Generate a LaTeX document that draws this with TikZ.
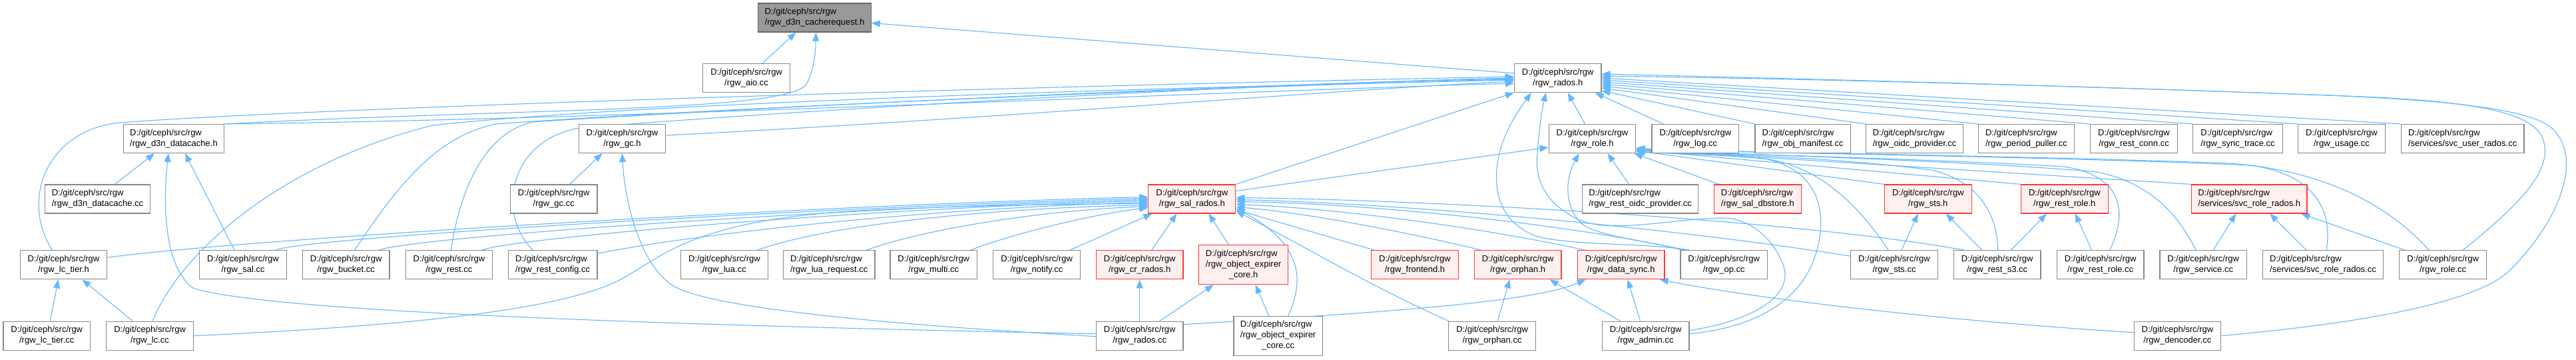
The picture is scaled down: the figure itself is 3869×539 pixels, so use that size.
\documentclass[tikz,border=0pt]{standalone}
\usepackage{fontspec}
\setmainfont{Liberation Sans}
\usetikzlibrary{arrows.meta,backgrounds}
\definecolor{edgeblue}{HTML}{63B8FF}
\definecolor{boxgray}{HTML}{888888}
\definecolor{boxred}{HTML}{FF3838}
\definecolor{redfill}{HTML}{FFF0F0}
\definecolor{rootfill}{HTML}{999999}
\definecolor{rootdraw}{HTML}{666666}
\newcommand{\dxl}[1]{\begin{tabular}{@{}l@{}}D:/git/ceph/src/rgw\\\multicolumn{1}{@{}c@{}}{#1}\end{tabular}}
\newcommand{\dxlt}[2]{\begin{tabular}{@{}l@{}}D:/git/ceph/src/rgw\\#1\\\multicolumn{1}{@{}c@{}}{#2}\end{tabular}}
\tikzset{
  box/.style={draw=boxgray, fill=white, line width=1.2pt, minimum width=130.6pt,
    minimum height=43pt, inner xsep=0pt, inner ysep=0pt,
    font=\fontsize{13}{16}\selectfont, text=black},
  redbox/.style={box, draw=boxred, fill=redfill},
  rootbox/.style={box, draw=rootdraw, fill=rootfill},
  tallbox/.style={minimum height=58.8pt},
  e/.style={draw=edgeblue, line width=1.1pt, -{Triangle[length=13pt,width=10pt]}},
}
\begin{document}
\begin{tikzpicture}[x=1pt,y=-1pt]
\useasboundingbox (0,0) rectangle (3869,539);
% ---------- nodes ----------
\node[rootbox, minimum width=169.5pt] (root) at (1223.5,26.5) {\dxl{/rgw\_d3n\_cacherequest.h}};
\node[box] (aio) at (1121.1,117) {\dxl{/rgw\_aio.cc}};
\node[box] (radosh) at (2339.7,117) {\dxl{/rgw\_rados.h}};
% row 2
\node[box, minimum width=151.3pt] (d3nh) at (261,208) {\dxl{/rgw\_d3n\_datacache.h}};
\node[box] (gch) at (934.5,208) {\dxl{/rgw\_gc.h}};
\node[box] (roleh) at (2391.5,208) {\dxl{/rgw\_role.h}};
\node[box] (logcc) at (2546.3,208) {\dxl{/rgw\_log.cc}};
\node[box, minimum width=143.4pt] (objm) at (2707.6,208) {\dxl{/rgw\_obj\_manifest.cc}};
\node[box, minimum width=145.5pt] (oidc) at (2875.6,208) {\dxl{/rgw\_oidc\_provider.cc}};
\node[box, minimum width=143.8pt] (period) at (3043.5,208) {\dxl{/rgw\_period\_puller.cc}};
\node[box, minimum width=130.9pt] (restconn) at (3205,208) {\dxl{/rgw\_rest\_conn.cc}};
\node[box, minimum width=134.4pt] (synctrace) at (3361,208) {\dxl{/rgw\_sync\_trace.cc}};
\node[box] (usage) at (3517,208) {\dxl{/rgw\_usage.cc}};
\node[box, minimum width=184.8pt] (svcuser) at (3698.6,208) {\dxl{/services/svc\_user\_rados.cc}};
% row 3
\node[box, minimum width=158.7pt] (d3ncc) at (146.5,298.5) {\dxl{/rgw\_d3n\_datacache.cc}};
\node[box] (gccc) at (831.7,298.5) {\dxl{/rgw\_gc.cc}};
\node[redbox, minimum width=131pt] (salh) at (1790.3,298.5) {\dxl{/rgw\_sal\_rados.h}};
\node[box, minimum width=174.5pt] (restoidc) at (2463.6,298.5) {\dxl{/rgw\_rest\_oidc\_provider.cc}};
\node[redbox] (dbstore) at (2639.8,298.5) {\dxl{/rgw\_sal\_dbstore.h}};
\node[redbox] (stsh) at (2895.8,298.5) {\dxl{/rgw\_sts.h}};
\node[redbox] (restroleh) at (3100.8,298.5) {\dxl{/rgw\_rest\_role.h}};
\node[redbox, minimum width=173.7pt] (svcroleh) at (3378.2,298.5) {\dxl{/services/svc\_role\_rados.h}};
% row 4
\node[box] (lctierh) at (95.5,397.2) {\dxl{/rgw\_lc\_tier.h}};
\node[box] (salcc) at (365,397.2) {\dxl{/rgw\_sal.cc}};
\node[box] (bucket) at (519.6,397.2) {\dxl{/rgw\_bucket.cc}};
\node[box] (rest) at (674.4,397.2) {\dxl{/rgw\_rest.cc}};
\node[box, minimum width=133.5pt] (restcfg) at (830.2,397.2) {\dxl{/rgw\_rest\_config.cc}};
\node[box] (lua) at (1087.9,397.2) {\dxl{/rgw\_lua.cc}};
\node[box, minimum width=137.6pt] (luareq) at (1245.2,397.2) {\dxl{/rgw\_lua\_request.cc}};
\node[box] (multi) at (1402.3,397.2) {\dxl{/rgw\_multi.cc}};
\node[box] (notify) at (1557.1,397.2) {\dxl{/rgw\_notify.cc}};
\node[redbox] (crh) at (1711.7,397.2) {\dxl{/rgw\_cr\_rados.h}};
\node[redbox, tallbox, minimum width=133.8pt] (oeh) at (1867.6,397.2) {\dxlt{/rgw\_object\_expirer}{\_core.h}};
\node[redbox] (frontend) at (2125,397.2) {\dxl{/rgw\_frontend.h}};
\node[redbox] (orphanh) at (2279.6,397.2) {\dxl{/rgw\_orphan.h}};
\node[redbox] (datasync) at (2434.6,397.2) {\dxl{/rgw\_data\_sync.h}};
\node[box] (op) at (2589.2,397.2) {\dxl{/rgw\_op.cc}};
\node[box] (stscc) at (2845,397.2) {\dxl{/rgw\_sts.cc}};
\node[box] (rests3) at (2999.6,397.2) {\dxl{/rgw\_rest\_s3.cc}};
\node[box] (restrolecc) at (3154.7,397.2) {\dxl{/rgw\_rest\_role.cc}};
\node[box] (service) at (3309.2,397.2) {\dxl{/rgw\_service.cc}};
\node[box, minimum width=180.5pt] (svcrolecc) at (3489,397.2) {\dxl{/services/svc\_role\_rados.cc}};
\node[box] (rolecc) at (3669.1,397.2) {\dxl{/rgw\_role.cc}};
% row 5
\node[box] (lctiercc) at (70.3,503.7) {\dxl{/rgw\_lc\_tier.cc}};
\node[box] (lccc) at (225.1,503.7) {\dxl{/rgw\_lc.cc}};
\node[box] (radoscc) at (1711.7,503.7) {\dxl{/rgw\_rados.cc}};
\node[box, tallbox, minimum width=133.4pt] (oecc) at (1919.6,503.7) {\dxlt{/rgw\_object\_expirer}{\_core.cc}};
\node[box] (orphancc) at (2241.1,503.7) {\dxl{/rgw\_orphan.cc}};
\node[box] (admin) at (2471.6,503.7) {\dxl{/rgw\_admin.cc}};
\node[box] (dencoder) at (3270.4,503.7) {\dxl{/rgw\_dencoder.cc}};
% ---------- edges ----------
\begin{scope}[on background layer]
\fill[white] (0,0) rectangle (3869,539);
% to root
\draw[e] ([xshift=24pt]aio.north) -- ([xshift=-28pt]root.south);
\draw[e] (d3nh.north east) .. controls (800,162) and (1190,168) .. (1212,125) .. controls (1224,100) and (1225,75) .. ([xshift=2pt]root.south);
\draw[e] ([yshift=-15pt]radosh.north west) -- ([yshift=-8pt]root.east);
% to d3n_datacache.h
\draw[e] ([xshift=26pt]d3ncc.north) -- ([xshift=-29pt]d3nh.south);
\draw[e] ([xshift=-13pt]salcc.north) -- ([xshift=17pt]d3nh.south);
\draw[e] ([yshift=3pt]radoscc.west) .. controls (1100,490) and (400,470) .. (290,432) .. controls (245,400) and (245,300) .. ([xshift=-8pt]d3nh.south);
% to gc.h
\draw[e] ([xshift=24pt]gccc.north) -- ([xshift=-30pt]gch.south);
\draw[e] ([yshift=-1pt]radoscc.west) .. controls (1300,485) and (1060,460) .. (1010,428) .. controls (960,395) and (938,300) .. (gch.south);
% to rados.h, left side
\draw[e] (d3nh.north east) .. controls (900,180) and (1900,135) .. ([yshift=-8pt]radosh.west);
\draw[e] ([yshift=5pt]gch.east) .. controls (1500,178) and (2000,135) .. ([yshift=-5pt]radosh.west);
\draw[e] ([xshift=-17pt]lctierh.north) .. controls (30,300) and (70,195) .. (180,184) .. controls (500,160) and (1600,128) .. ([yshift=2pt]radosh.west);
\draw[e] ([xshift=4pt]lccc.north) .. controls (270,380) and (420,245) .. (650,188) .. controls (1000,150) and (1900,128) .. ([yshift=-3pt]radosh.west);
\draw[e] ([xshift=13pt]bucket.north) .. controls (590,290) and (650,205) .. (745,186) .. controls (1100,160) and (1900,128) .. ([yshift=-2pt]radosh.west);
\draw[e] ([xshift=3pt]rest.north) .. controls (690,290) and (725,200) .. (800,183) .. controls (1150,160) and (1900,125) .. ([yshift=-1pt]radosh.west);
\draw[e] ([xshift=-30pt]restcfg.north) .. controls (745,320) and (765,210) .. (870,192) .. controls (1200,165) and (1900,125) .. (radosh.west);
% to rados.h, bottom
\draw[e] (salh.north east) -- (radosh.south west);
\draw[e] ([xshift=-11pt]roleh.north) -- ([xshift=15pt]radosh.south);
\draw[e] ([xshift=-48pt]logcc.north) -- ([xshift=56pt]radosh.south);
\draw[e] ([yshift=8pt]admin.east) .. controls (2640,480) and (2695,440) .. (2678,397) .. controls (2660,350) and (2620,325) .. (2583,327) .. controls (2500,330) and (2420,350) .. (2372,330) .. controls (2320,305) and (2305,270) .. (2309,230) .. controls (2312,190) and (2316,165) .. ([xshift=-18pt]radosh.south);
\draw[e] ([xshift=-52pt]op.north) .. controls (2480,365) and (2360,368) .. (2310,355) .. controls (2250,335) and (2240,280) .. (2252,230) .. controls (2262,190) and (2285,160) .. ([xshift=-40pt]radosh.south);
% to rados.h, right side
\draw[e] (objm.north west) -- ([yshift=-19pt]radosh.east);
\draw[e] (oidc.north west) -- ([yshift=-15pt]radosh.east);
\draw[e] (period.north west) -- ([yshift=-12pt]radosh.east);
\draw[e] (restconn.north west) -- ([yshift=-9pt]radosh.east);
\draw[e] (synctrace.north west) -- ([yshift=-6pt]radosh.east);
\draw[e] (usage.north west) -- ([yshift=-3pt]radosh.east);
\draw[e] (svcuser.north west) -- (radosh.east);
\draw[e] ([xshift=30pt]rolecc.north) .. controls (3780,310) and (3845,250) .. (3815,200) .. controls (3790,165) and (3700,152) .. (3550,145) .. controls (3100,128) and (2700,118) .. ([yshift=3pt]radosh.east);
\draw[e] (dencoder.east) .. controls (3600,480) and (3730,445) .. (3770,405) .. controls (3850,325) and (3880,230) .. (3830,190) .. controls (3790,160) and (3650,150) .. (3500,143) .. controls (3100,128) and (2700,118) .. ([yshift=6pt]radosh.east);
% to sal_rados.h
\draw[e] ([yshift=11pt]lctierh.east) .. controls (400,355) and (1300,305) .. ([yshift=3pt]salh.west);
\draw[e] ([xshift=49pt]salcc.north) .. controls (460,355) and (1300,308) .. ([yshift=1pt]salh.west);
\draw[e] ([xshift=50pt]bucket.north) .. controls (620,355) and (1300,310) .. ([yshift=-1pt]salh.west);
\draw[e] ([xshift=49pt]rest.north) .. controls (780,355) and (1350,310) .. ([yshift=-3pt]salh.west);
\draw[e] ([yshift=17pt]restcfg.east) .. controls (1050,350) and (1400,312) .. ([yshift=-5pt]salh.west);
\draw[e] (lccc.east) .. controls (700,485) and (870,455) .. (940,415) .. controls (1000,380) and (1050,330) .. (1290,316) .. controls (1450,308) and (1600,306) .. ([yshift=-7pt]salh.west);
\draw[e] ([xshift=50pt]lua.north) .. controls (1250,335) and (1500,312) .. ([yshift=-9pt]salh.west);
\draw[e] ([xshift=56pt]luareq.north) .. controls (1400,340) and (1580,315) .. ([yshift=-11pt]salh.west);
\draw[e] ([xshift=55pt]multi.north) .. controls (1530,348) and (1640,322) .. ([yshift=-13pt]salh.west);
\draw[e] ([xshift=50pt]notify.north) -- ([xshift=6pt]salh.south west);
\draw[e] ([xshift=18pt]crh.north) -- ([xshift=-23pt]salh.south);
\draw[e] ([xshift=-22pt]oeh.north) -- ([xshift=25pt]salh.south);
\draw[e] ([xshift=-61pt]frontend.north) -- ([yshift=-16pt]salh.east);
\draw[e] ([xshift=-55pt]orphanh.north) .. controls (2100,345) and (1950,318) .. ([yshift=-12pt]salh.east);
\draw[e] ([xshift=-54pt]datasync.north) .. controls (2220,340) and (2000,312) .. ([yshift=-8pt]salh.east);
\draw[e] ([xshift=-58pt]op.north) .. controls (2350,335) and (2050,305) .. ([yshift=-4pt]salh.east);
\draw[e] ([yshift=13pt]stscc.west) .. controls (2500,340) and (2100,305) .. ([yshift=-1pt]salh.east);
\draw[e] ([xshift=-50pt]rests3.north) .. controls (2700,330) and (2150,300) .. ([yshift=2pt]salh.east);
\draw[e] ([xshift=-65pt]orphancc.north) .. controls (2060,430) and (1960,370) .. ([yshift=4pt]salh.south east);
\draw[e] ([xshift=15pt]oecc.north) .. controls (1955,430) and (1965,370) .. ([yshift=8pt]salh.south east);
% lower links
\draw[e] ([xshift=5pt]lctiercc.north) -- ([xshift=-8pt]lctierh.south);
\draw[e] ([xshift=-26pt]lccc.north) -- ([xshift=28pt]lctierh.south);
\draw[e] (radoscc.north) -- (crh.south);
\draw[e] ([xshift=30pt]radoscc.north) -- ([xshift=-45pt]oeh.south);
\draw[e] ([xshift=-14pt]oecc.north) -- ([xshift=18pt]oeh.south);
\draw[e] ([yshift=17pt]radoscc.east) .. controls (2050,470) and (2300,455) .. ([xshift=-53pt]datasync.south);
\draw[e] ([xshift=8pt]orphancc.north) -- ([xshift=-12pt]orphanh.south);
\draw[e] ([xshift=-38pt]admin.north) -- ([xshift=48pt]orphanh.south);
\draw[e] ([xshift=-8pt]admin.north) -- ([xshift=10pt]datasync.south);
\draw[e] ([yshift=5pt]dencoder.west) .. controls (2900,480) and (2620,445) .. ([xshift=58pt]datasync.south);
% to role.h
\draw[e] ([yshift=-10pt]salh.north east) -- ([yshift=-13pt]roleh.west);
\draw[e] ([xshift=-62pt]op.north) .. controls (2470,360) and (2400,355) .. (2375,335) .. controls (2350,310) and (2350,270) .. ([xshift=-20pt]roleh.south);
\draw[e] ([xshift=-17pt]restoidc.north) -- ([xshift=23pt]roleh.south);
\draw[e] ([xshift=8pt]dbstore.north west) -- ([xshift=-3pt]roleh.south east);
\draw[e] ([yshift=3pt]admin.east) .. controls (2650,490) and (2725,440) .. (2734,347) .. controls (2740,280) and (2700,245) .. (2640,236) .. controls (2580,230) and (2500,230) .. ([yshift=2pt]roleh.south east);
\draw[e] (stsh.north west) -- ([yshift=4pt]roleh.south east);
\draw[e] (restroleh.north west) -- ([yshift=5pt]roleh.south east);
\draw[e] (svcroleh.north west) -- ([yshift=6pt]roleh.south east);
\draw[e] ([xshift=-9pt]stscc.north) .. controls (2800,320) and (2740,250) .. (2650,238) .. controls (2580,232) and (2500,230) .. ([yshift=3pt]roleh.south east);
\draw[e] ([xshift=1pt]rests3.north) .. controls (3000,320) and (2970,270) .. (2900,255) .. controls (2750,235) and (2550,230) .. ([yshift=4pt]roleh.south east);
\draw[e] ([xshift=14pt]restrolecc.north) .. controls (3200,310) and (3180,262) .. (3100,250) .. controls (2900,238) and (2550,230) .. ([yshift=5pt]roleh.south east);
\draw[e] ([xshift=-11pt]service.north) .. controls (3270,320) and (3230,275) .. (3150,258) .. controls (2950,240) and (2550,230) .. ([yshift=6pt]roleh.south east);
\draw[e] ([xshift=5pt]svcrolecc.north) .. controls (3505,310) and (3470,260) .. (3380,248) .. controls (3100,235) and (2550,228) .. ([yshift=7pt]roleh.south east);
\draw[e] ([xshift=-21pt]rolecc.north) .. controls (3580,300) and (3480,255) .. (3350,245) .. controls (3000,232) and (2550,228) .. ([yshift=8pt]roleh.south east);
% to sts.h, rest_role.h, svc_role_rados.h
\draw[e] ([xshift=11pt]stscc.north) -- ([xshift=-15pt]stsh.south);
\draw[e] ([xshift=-23pt]rests3.north) -- ([xshift=27pt]stsh.south);
\draw[e] ([xshift=21pt]rests3.north) -- ([xshift=-27pt]restroleh.south);
\draw[e] ([xshift=-13pt]restrolecc.north) -- ([xshift=16pt]restroleh.south);
\draw[e] ([xshift=15pt]service.north) -- ([xshift=-20pt]svcroleh.south);
\draw[e] ([xshift=-25pt]svcrolecc.north) -- ([xshift=31pt]svcroleh.south);
\draw[e] ([xshift=-57pt]rolecc.north) -- ([xshift=78pt]svcroleh.south);
\end{scope}
\end{tikzpicture}
\end{document}
